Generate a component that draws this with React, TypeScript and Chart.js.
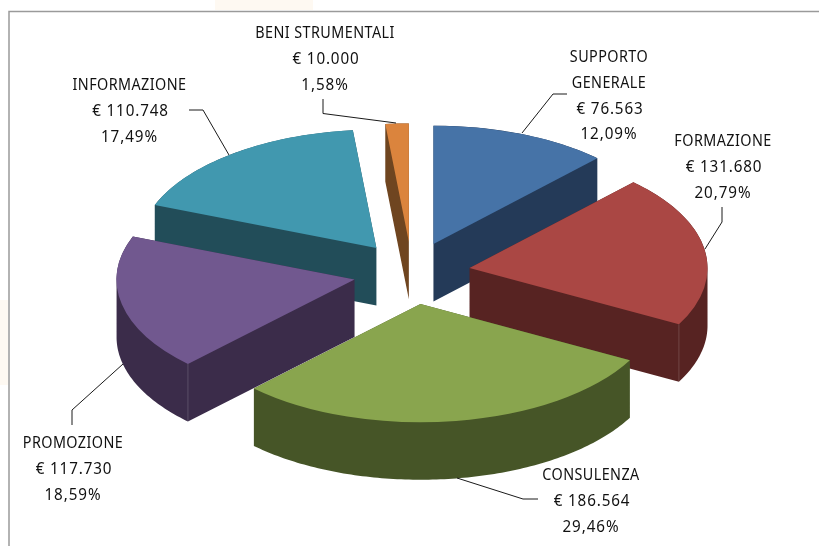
import React, { useEffect, useRef } from "react";
import { Chart, registerables } from "chart.js";

Chart.register(...registerables);

const categories = [["SUPPORTO", "GENERALE"], ["FORMAZIONE"], ["CONSULENZA"], ["PROMOZIONE"], ["INFORMAZIONE"], ["BENI STRUMENTALI"]];
const amounts = [76563, 131680, 186564, 117730, 110748, 10000];
const amountLabels = ["€ 76.563", "€ 131.680", "€ 186.564", "€ 117.730", "€ 110.748", "€ 10.000"];
const percentLabels = ["12,09%", "20,79%", "29,46%", "18,59%", "17,49%", "1,58%"];

const topColors = ["#4673A7", "#AA4744", "#89A54E", "#71588F", "#4198AF", "#DB843D"];
const wallColors = ["#243A58", "#572322", "#465527", "#3B2C4A", "#224D59", "#6F4520"];

// Draw order, back to front
const drawOrder = [4, 5, 0, 3, 1, 2];
const labelLayout = [
  { x: 609, y: 57 },
  { x: 723, y: 141 },
  { x: 591, y: 475 },
  { x: 73, y: 443 },
  { x: 129.5, y: 85 },
  { x: 325, y: 33 },
];
const leaders = [
  [[567, 94], [553, 94], [522, 133]],
  [[722, 207], [722, 222], [705, 249]],
  [[538, 499], [523, 499], [457, 478]],
  [[72, 425], [72, 410], [123, 364]],
  [[189, 110], [203, 110], [229, 155]],
  [[323, 99], [323, 113.5], [396, 123]],
];
// [slice, true = start angle / false = end angle]
const cornerLines: [number, boolean][] = [[3, true], [1, false]];

const TILT = 0.497;
const EXPLODE_TILT = 0.535;
const DEPTH = 57.5;
const EXPLODE = 58.5;
const LINE_H = 25.8;

const pie3d = {
  id: "pie3d",
  beforeDraw(chart: any) {
    const { ctx } = chart;
    ctx.save();
    ctx.fillStyle = "#ffffff";
    ctx.fillRect(0, 0, 819, 546);
    ctx.fillStyle = "#fef9f2";
    ctx.fillRect(215, 0, 98, 10);
    ctx.fillRect(0, 300, 8, 85);
    ctx.strokeStyle = "#9a9a9a";
    ctx.lineWidth = 1.5;
    ctx.beginPath();
    ctx.moveTo(9, 546);
    ctx.lineTo(9, 11.5);
    ctx.lineTo(819, 11.5);
    ctx.stroke();
    ctx.restore();
  },
  beforeDatasetDraw(chart: any) {
    const { ctx } = chart;
    const arcs = chart.getDatasetMeta(0).data;
    for (const i of drawOrder) {
      const arc = arcs[i];
      const mid = (arc.startAngle + arc.endAngle) / 2;
      const dx = Math.cos(mid) * EXPLODE;
      const dy = Math.sin(mid) * EXPLODE * EXPLODE_TILT;
      const px = (a: number) => arc.x + dx + Math.cos(a) * arc.outerRadius;
      const py = (a: number) => arc.y + dy + Math.sin(a) * arc.outerRadius * TILT;

      // Side wall: outline of the slice swept downward, filled in one pass
      const outline: [number, number][] = [[arc.x + dx, arc.y + dy]];
      const steps = Math.max(4, Math.ceil((arc.endAngle - arc.startAngle) * 60));
      for (let s = 0; s <= steps; s++) {
        const a = arc.startAngle + ((arc.endAngle - arc.startAngle) * s) / steps;
        outline.push([px(a), py(a)]);
      }
      ctx.save();
      ctx.fillStyle = wallColors[i];
      ctx.beginPath();
      const addPoly = (p: [number, number][]) => {
        let area = 0;
        p.forEach(([x, y], k) => {
          const [nx, ny] = p[(k + 1) % p.length];
          area += x * ny - nx * y;
        });
        const q = area < 0 ? [...p].reverse() : p;
        q.forEach(([x, y], k) => (k ? ctx.lineTo(x, y) : ctx.moveTo(x, y)));
        ctx.closePath();
      };
      addPoly(outline.map(([x, y]) => [x, y + DEPTH] as [number, number]));
      outline.forEach(([x, y], k) => {
        const [nx, ny] = outline[(k + 1) % outline.length];
        addPoly([[x, y], [nx, ny], [nx, ny + DEPTH], [x, y + DEPTH]]);
      });
      ctx.fill("nonzero");

      // lighter vertical corner lines of the wall
      ctx.strokeStyle = "rgba(255,255,255,0.16)";
      ctx.lineWidth = 1;
      for (const [slice, isStart] of cornerLines) {
        if (slice !== i) continue;
        const a = isStart ? arc.startAngle : arc.endAngle;
        ctx.beginPath();
        ctx.moveTo(px(a), py(a));
        ctx.lineTo(px(a), py(a) + DEPTH);
        ctx.stroke();
      }
      ctx.restore();

      // Top face: the library's own arc element
      ctx.save();
      ctx.translate(dx, dy);
      ctx.translate(0, arc.y);
      ctx.scale(1, TILT);
      ctx.translate(0, -arc.y);
      arc.draw(ctx);
      ctx.restore();
    }
    return false;
  },
  afterDraw(chart: any) {
    const { ctx } = chart;
    ctx.save();
    ctx.strokeStyle = "#1a1a1a";
    ctx.lineWidth = 1;
    leaders.forEach((pts) => {
      ctx.beginPath();
      pts.forEach(([x, y], k) => (k ? ctx.lineTo(x, y) : ctx.moveTo(x, y)));
      ctx.stroke();
    });
    ctx.fillStyle = "#111111";
    ctx.textAlign = "center";
    ctx.textBaseline = "middle";
    const put = (t: string, x: number, y: number, font: string, spacing: string, sx: number) => {
      ctx.save();
      ctx.font = font;
      (ctx as any).letterSpacing = spacing;
      ctx.translate(x, y);
      ctx.scale(sx, 1);
      ctx.fillText(t, 0, 0);
      ctx.restore();
    };
    categories.forEach((name, i) => {
      const { x, y } = labelLayout[i];
      name.forEach((t, k) => put(t, x, y + k * LINE_H, "16.5px 'Noto Sans'", "0.5px", 0.87));
      const n = name.length;
      put(amountLabels[i], x + 1, y + n * LINE_H + 0.5, "16px 'Noto Sans'", "0.9px", 0.95);
      put(percentLabels[i], x, y + (n + 1) * LINE_H + 0.5, "16px 'Noto Sans'", "1px", 0.95);
    });
    ctx.restore();
  },
};

export default function App() {
  const ref = useRef<HTMLCanvasElement>(null);
  useEffect(() => {
    const chart = new Chart(ref.current!, {
      type: "pie",
      data: {
        labels: categories.map((c) => c.join(" ")),
        datasets: [
          {
            data: amounts,
            backgroundColor: topColors,
            borderWidth: 0,
            radius: 238,
            clip: false,
          } as any,
        ],
      },
      options: {
        responsive: false,
        animation: false,
        events: [],
        layout: { padding: { left: 4.5 } },
        plugins: { legend: { display: false }, tooltip: { enabled: false } },
      },
      plugins: [pie3d],
    });
    return () => chart.destroy();
  }, []);
  return (
    <canvas
      ref={ref}
      width={819}
      height={546}
      style={{ position: "fixed", left: 0, top: 0, display: "block", width: 819, height: 546 }}
    />
  );
}
